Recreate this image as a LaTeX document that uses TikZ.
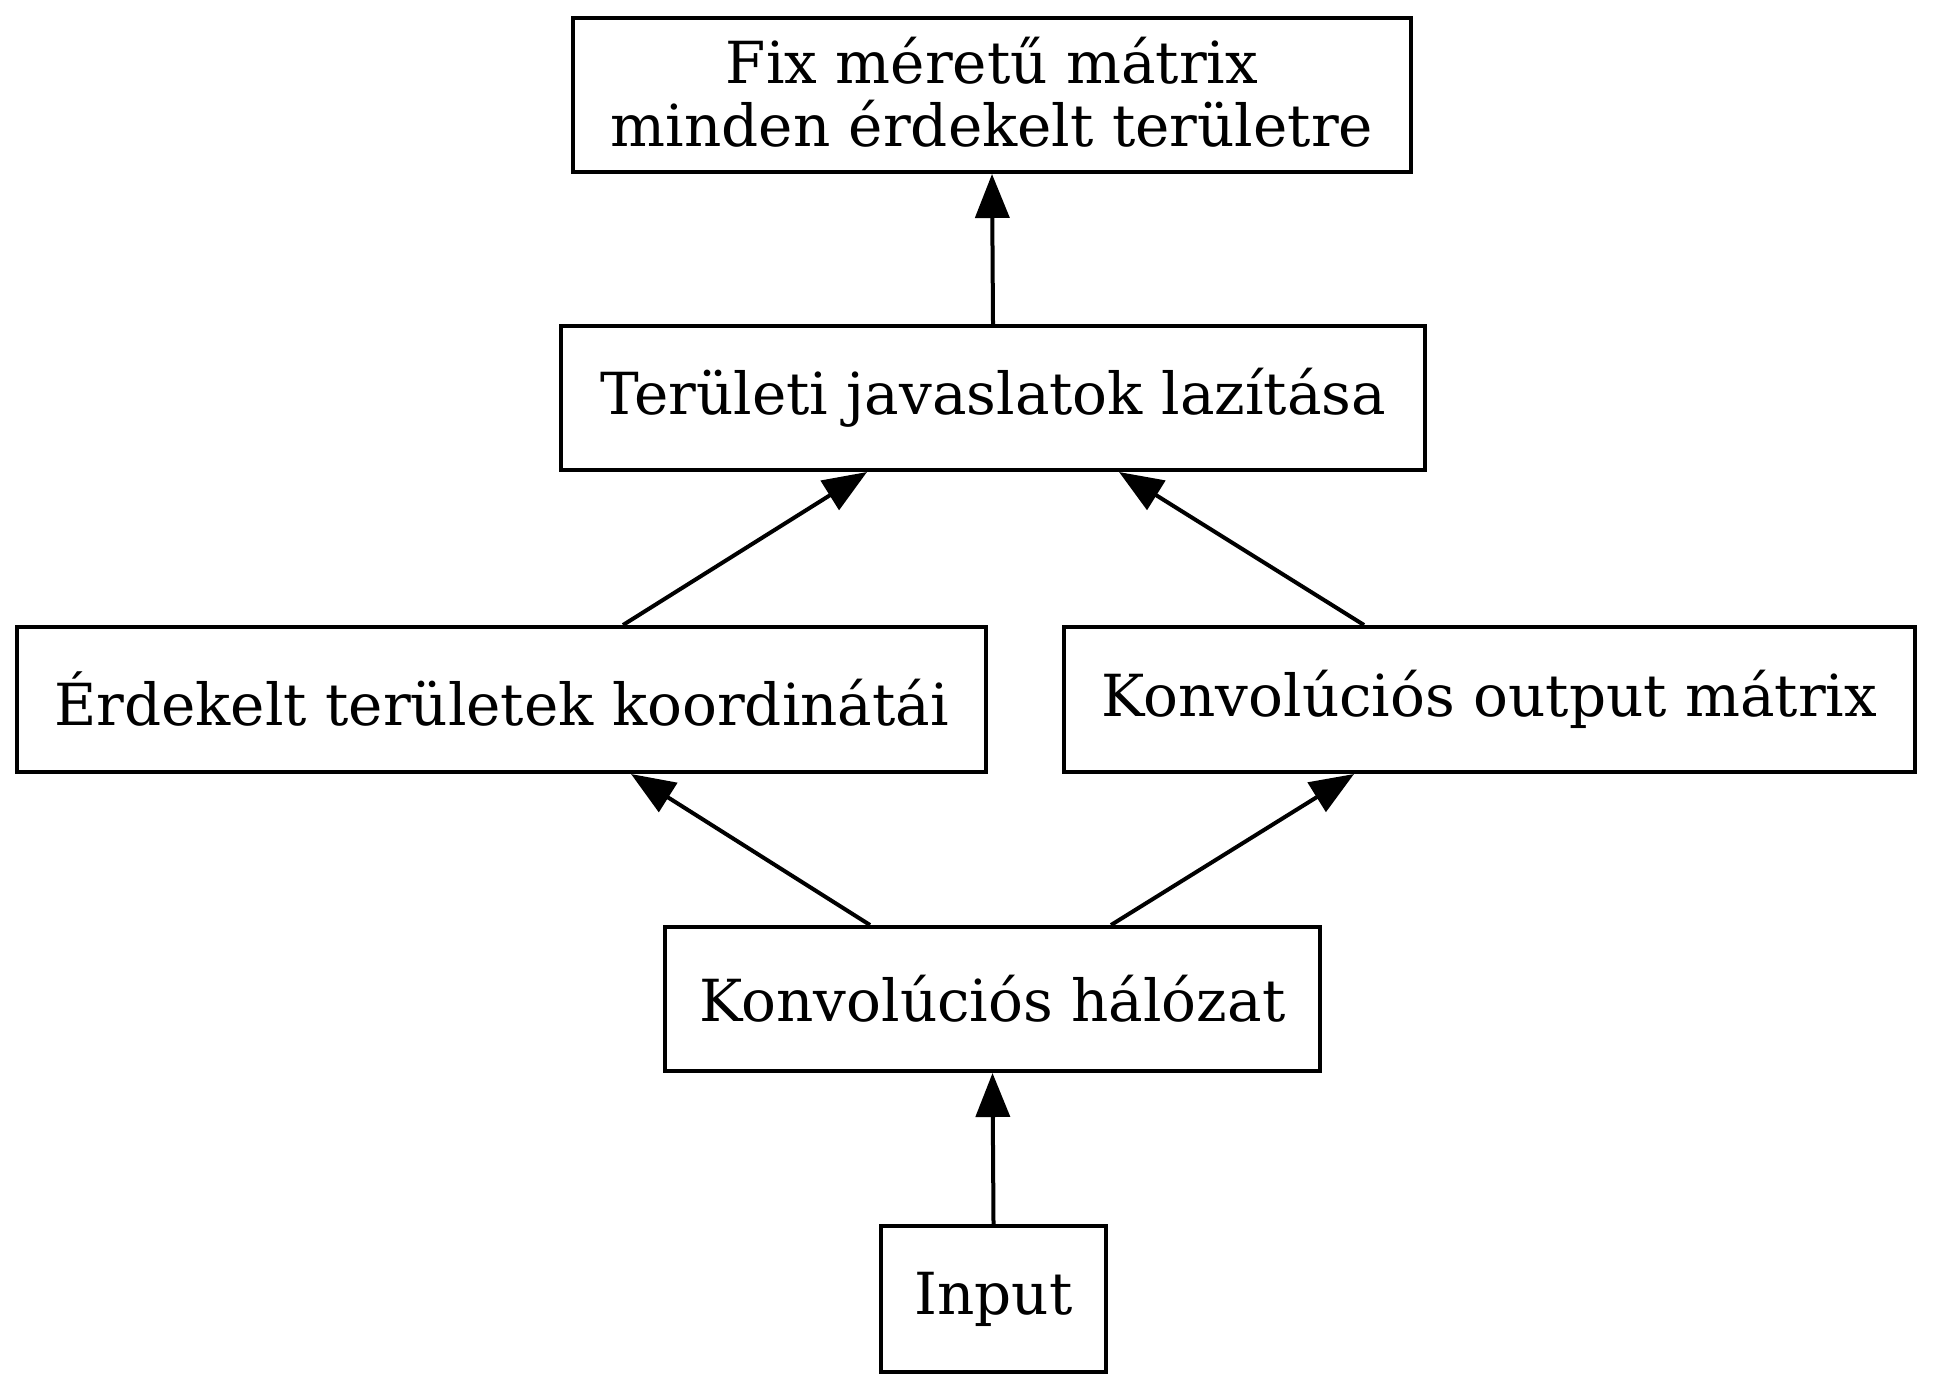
\documentclass[tikz,border=0pt]{standalone}
\usepackage{fontspec}
\setmainfont{DejaVu Serif}
\usetikzlibrary{arrows.meta,calc}
\begin{document}
\begin{tikzpicture}[x=0.25pt,y=-0.25pt,
  box/.style={draw,line width=1pt,rectangle,inner sep=0pt,align=center,
    font=\fontsize{14.5}{15.7}\selectfont},
  arr/.style={line width=1pt,-{Triangle[length=11pt,width=8.5pt]}}]
\useasboundingbox (0,0) rectangle (1933,1392);
\node[box,minimum width=209.5pt,minimum height=38.5pt] (top) at (992,95) {Fix méretű mátrix\\minden érdekelt területre\rule[-1.5pt]{0pt}{1pt}};
\node[box,minimum width=216pt,minimum height=36pt] (terr) at (993,398) {Területi javaslatok lazítása};
\node[box,minimum width=242.25pt,minimum height=36.25pt] (left) at (501.5,699.5) {Érdekelt területek koordinátái};
\node[box,minimum width=212.75pt,minimum height=36.25pt] (right) at (1489.5,699.5) {Konvolúciós output mátrix};
\node[box,minimum width=163.75pt,minimum height=36pt] (conv) at (992.5,999) {Konvolúciós hálózat};
\node[box,minimum width=56.25pt,minimum height=36.5pt] (input) at (993.5,1299) {Input};
\draw[arr] (input.north) -- (conv.south);
\draw[arr] ($(conv.north west)+(207,0)$) -- ($(left.south west)+(616,0)$);
\draw[arr] ($(conv.north west)+(448,0)$) -- ($(right.south west)+(292,0)$);
\draw[arr] ($(left.north west)+(608,0)$) -- ($(terr.south west)+(308,0)$);
\draw[arr] ($(right.north west)+(302,0)$) -- ($(terr.south west)+(560,0)$);
\draw[arr] (terr.north) -- (top.south);
\end{tikzpicture}
\end{document}
